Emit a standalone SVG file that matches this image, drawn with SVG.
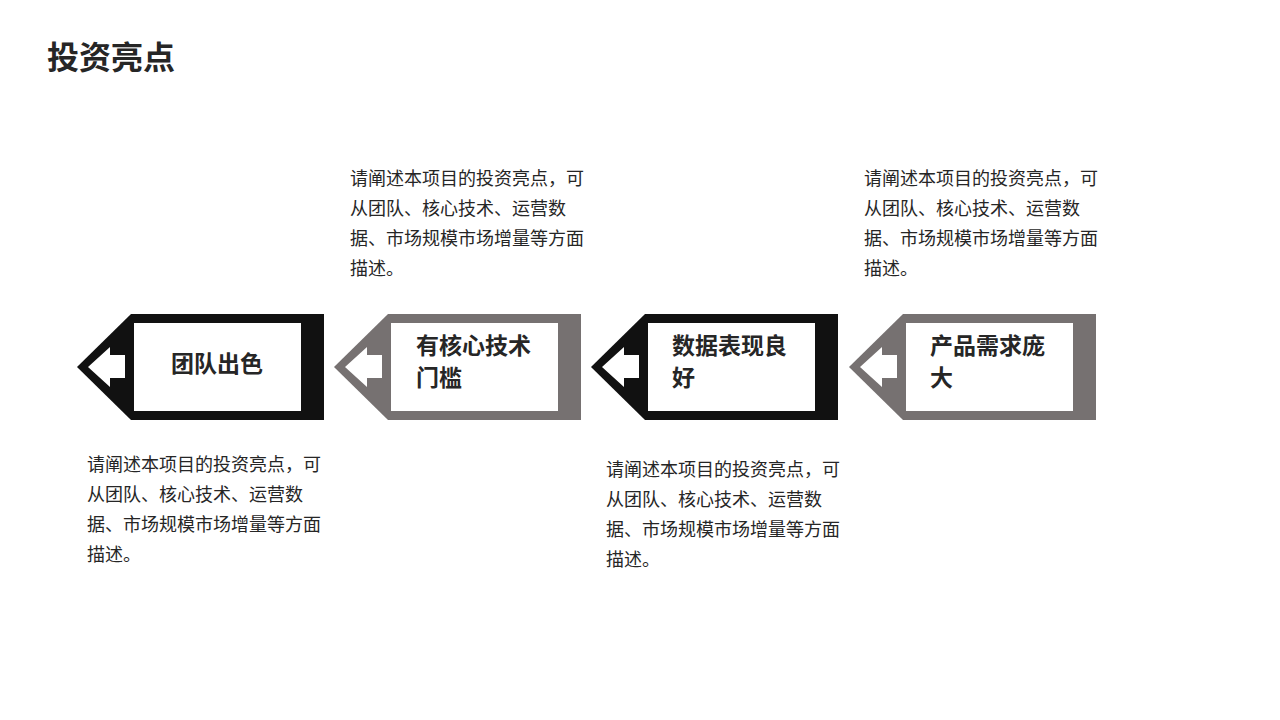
<svg xmlns="http://www.w3.org/2000/svg" width="1280" height="720" viewBox="0 0 1280 720">
<style>
text{font-family:"Noto Sans CJK SC","Noto Sans",sans-serif;fill:#262626}
.t{font-size:32px;font-weight:bold}
.l{font-size:23px;font-weight:bold}
.d{font-size:18px}
.k{fill:#111}.g{fill:#767171}.w{fill:#fff}
</style>
<defs>
<g id="tag">
<polygon points="0,53 54,0 247,0 247,106 54,106"/>
<rect class="w" x="57" y="9" width="167" height="88"/>
<polygon class="w" points="11,53 33,33 33,41 48,41 48,64 33,64 33,73"/>
</g>
</defs>
<rect width="1280" height="720" fill="#fff"/>
<text class="t" x="47" y="69">投资亮点</text>
<g id="node1" class="k" transform="translate(77,314)"><use href="#tag"/></g>
<g id="node2" class="g" transform="translate(334,314)"><use href="#tag"/></g>
<g id="node3" class="k" transform="translate(591,314)"><use href="#tag"/></g>
<g id="node4" class="g" transform="translate(849,314)"><use href="#tag"/></g>
<g id="labels">
<text class="l" x="171" y="372">团队出色</text>
<text class="l" x="416" y="354">有核心技术</text><text class="l" x="416" y="386">门槛</text>
<text class="l" x="672" y="354">数据表现良</text><text class="l" x="672" y="386">好</text>
<text class="l" x="930" y="354">产品需求庞</text><text class="l" x="930" y="386">大</text>
</g>
<g id="desc" class="d">
<text class="d" x="350" y="185">请阐述本项目的投资亮点，可</text><text class="d" x="350" y="215">从团队、核心技术、运营数</text><text class="d" x="350" y="245">据、市场规模市场增量等方面</text><text class="d" x="350" y="275">描述。</text>
<text class="d" x="864" y="185">请阐述本项目的投资亮点，可</text><text class="d" x="864" y="215">从团队、核心技术、运营数</text><text class="d" x="864" y="245">据、市场规模市场增量等方面</text><text class="d" x="864" y="275">描述。</text>
<text class="d" x="87" y="471">请阐述本项目的投资亮点，可</text><text class="d" x="87" y="501">从团队、核心技术、运营数</text><text class="d" x="87" y="531">据、市场规模市场增量等方面</text><text class="d" x="87" y="561">描述。</text>
<text class="d" x="606" y="476">请阐述本项目的投资亮点，可</text><text class="d" x="606" y="506">从团队、核心技术、运营数</text><text class="d" x="606" y="536">据、市场规模市场增量等方面</text><text class="d" x="606" y="566">描述。</text>
</g>
<g id="connectors"/>
</svg>
